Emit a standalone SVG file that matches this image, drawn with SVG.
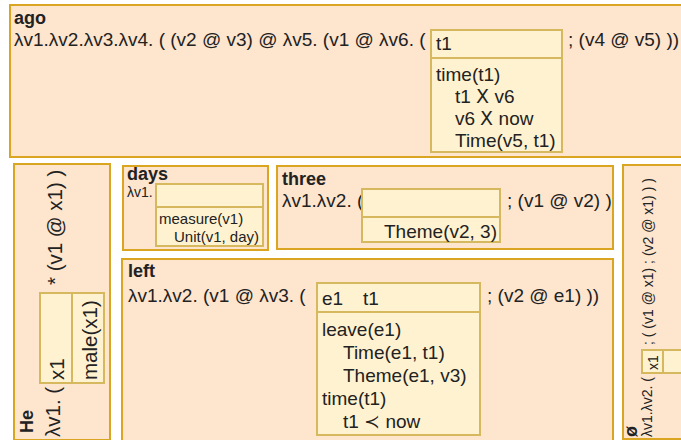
<svg xmlns="http://www.w3.org/2000/svg" width="681" height="440" viewBox="0 0 681 440">
  <style>
    .box { fill: #fde5ce; stroke: #daa520; stroke-width: 2; }
    .drs { fill: #fff2d0; stroke: #d6b85e; stroke-width: 2; }
    .sep { stroke: #d6b85e; stroke-width: 2; }
    text { font-family: "Liberation Sans", Arial, sans-serif; fill: #222; }
    .title { font-weight: bold; font-size: 18px; }
    .t { font-size: 19px; }
    .r { font-size: 20.5px; }
    .s { font-size: 15px; }
    .xs { font-size: 14px; }
  </style>
  <rect x="0" y="0" width="681" height="440" fill="#ffffff"/>

  <!-- ago -->
  <g id="ago">
    <rect class="box" x="10" y="5" width="690" height="152"/>
    <text class="title" x="14" y="24">ago</text>
    <text class="t" x="14" y="46">λv1.λv2.λv3.λv4. ( (v2 @ v3) @ λv5. (v1 @ λv6. (</text>
    <rect class="drs" x="431" y="30" width="131" height="122"/>
    <line class="sep" x1="431" y1="58" x2="562" y2="58"/>
    <text class="t" x="436" y="50">t1</text>
    <text class="t" x="436" y="81">time(t1)</text>
    <text class="t" x="455" y="103">t1 Ⅹ v6</text>
    <text class="t" x="455" y="125">v6 Ⅹ now</text>
    <text class="t" x="455" y="147">Time(v5, t1)</text>
    <text class="t" x="568" y="46">; (v4 @ v5) ))</text>
  </g>

  <!-- He -->
  <g id="he">
    <rect class="box" x="14" y="164" width="96" height="276"/>
    <text class="title" font-size="19" transform="translate(33,433) rotate(-90)">He</text>
    <text class="r" transform="translate(60,437) rotate(-90)">λv1. (</text>
    <rect class="drs" x="40" y="293" width="64" height="90"/>
    <line class="sep" x1="72" y1="293" x2="72" y2="383"/>
    <text class="r" transform="translate(64,380) rotate(-90)">x1</text>
    <text class="r" transform="translate(97,380) rotate(-90)">male(x1)</text>
    <text class="r" transform="translate(62,285) rotate(-90)">* (v1 @ x1) )</text>
  </g>

  <!-- days -->
  <g id="days">
    <rect class="box" x="123" y="166" width="145" height="84"/>
    <text class="title" font-size="13.5" x="127" y="180">days</text>
    <text class="xs" font-size="13.5" x="127" y="197">λv1.</text>
    <rect class="drs" x="156" y="184" width="107" height="62"/>
    <line class="sep" x1="156" y1="207" x2="263" y2="207"/>
    <text class="s" x="159" y="224">measure(v1)</text>
    <text class="s" x="174" y="242">Unit(v1, day)</text>
  </g>

  <!-- three -->
  <g id="three">
    <rect class="box" x="277" y="166" width="336" height="83"/>
    <text class="title" x="282" y="185">three</text>
    <text class="t" x="282" y="207">λv1.λv2. (</text>
    <rect class="drs" x="362" y="189" width="138" height="53"/>
    <line class="sep" x1="362" y1="217" x2="500" y2="217"/>
    <text class="t" x="384" y="238">Theme(v2, 3)</text>
    <text class="t" x="507" y="207">; (v1 @ v2) )</text>
  </g>

  <!-- left -->
  <g id="left">
    <rect class="box" x="122" y="259" width="491" height="200"/>
    <text class="title" x="128" y="277">left</text>
    <text class="t" x="128" y="302">λv1.λv2. (v1 @ λv3. (</text>
    <rect class="drs" x="317" y="283" width="163" height="152"/>
    <line class="sep" x1="317" y1="312" x2="480" y2="312"/>
    <text class="t" x="322" y="305">e1</text>
    <text class="t" x="363" y="305">t1</text>
    <text class="t" x="322" y="336">leave(e1)</text>
    <text class="t" x="343" y="359">Time(e1, t1)</text>
    <text class="t" x="343" y="382">Theme(e1, v3)</text>
    <text class="t" x="322" y="405">time(t1)</text>
    <text class="t" x="343" y="428">t1 ≺ now</text>
    <text class="t" x="487" y="302">; (v2 @ e1) ))</text>
  </g>

  <!-- ø -->
  <g id="empty">
    <rect class="box" x="623" y="165" width="80" height="274"/>
    <text class="title" font-size="13" transform="translate(637,437) rotate(-90)">ø</text>
    <text class="xs" transform="translate(652,437) rotate(-90)">λv1.λv2. (</text>
    <rect class="drs" x="642" y="350" width="60" height="23"/>
    <line class="sep" x1="663" y1="350" x2="663" y2="373"/>
    <text class="xs" transform="translate(658,370) rotate(-90)">x1</text>
    <text class="xs" transform="translate(653,345) rotate(-90)">; ( (v1 @ x1) ; (v2 @ x1) ) )</text>
  </g>

  <g id="connectors"/>
</svg>
